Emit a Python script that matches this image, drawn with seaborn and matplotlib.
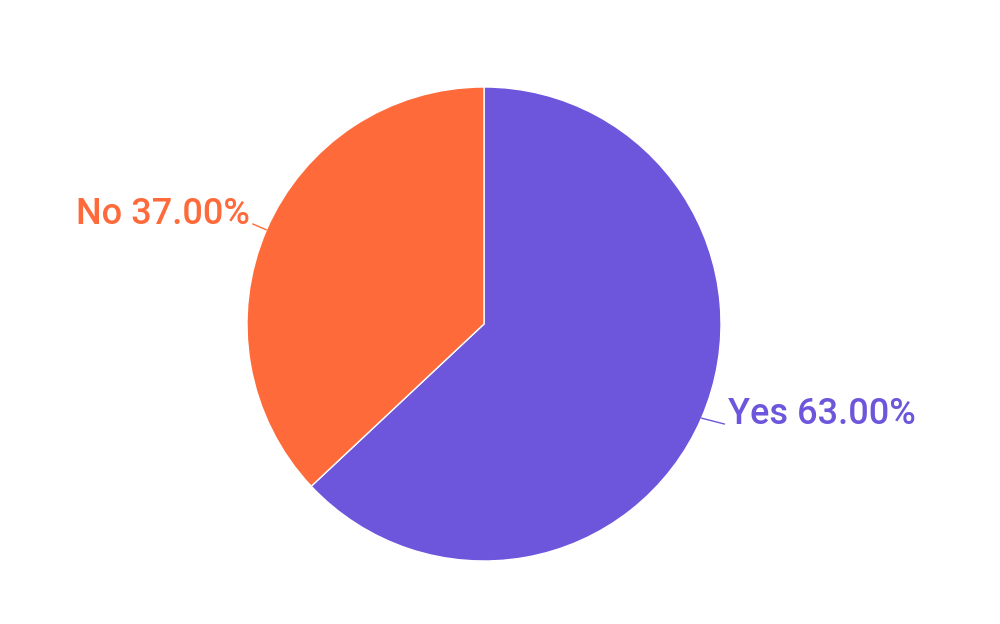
import numpy as np
import matplotlib
matplotlib.use("Agg")
import matplotlib.pyplot as plt
import seaborn as sns

labels = ["Yes", "No"]
values = [63.0, 37.0]
colors = ["#6D56DC", "#FE6A3A"]

sns.set_style("white")
plt.rcParams['font.family'] = ['Roboto', 'DejaVu Sans']

W, H = 1000, 624
fig = plt.figure(figsize=(W / 100, H / 100), dpi=100)
ax = fig.add_axes([0, 0, 1, 1])
cx, cy, R = 484, 324, 237

wedges, _ = ax.pie(values, colors=colors, startangle=90, counterclock=False,
                   radius=1.0, center=(0, 0), frame=False,
                   wedgeprops=dict(edgecolor='white', linewidth=1))
ax.set_xlim(-cx / R, (W - cx) / R)
ax.set_ylim(-(H - cy) / R, cy / R)
ax.set_aspect('equal')
ax.axis('off')

leader_dx = [0.097, 0.058]
for w, lab, val, col, ldx in zip(wedges, labels, values, colors, leader_dx):
    ang = np.deg2rad((w.theta1 + w.theta2) / 2)
    x0, y0 = np.cos(ang), np.sin(ang)
    sgn = 1 if x0 > 0 else -1
    x1, y1 = x0 + sgn * ldx, y0 + np.sign(y0) * 0.025
    ax.plot([x0, x1], [y0, y1], color=col, lw=1.0, solid_capstyle='round')
    ax.text(x1 + sgn * 0.013, y1, f"{lab} {val:.2f}%", color=col,
            fontsize=26, fontweight='medium',
            ha='left' if sgn > 0 else 'right', va='baseline')

fig.savefig("out.png", dpi=100, facecolor='white')
